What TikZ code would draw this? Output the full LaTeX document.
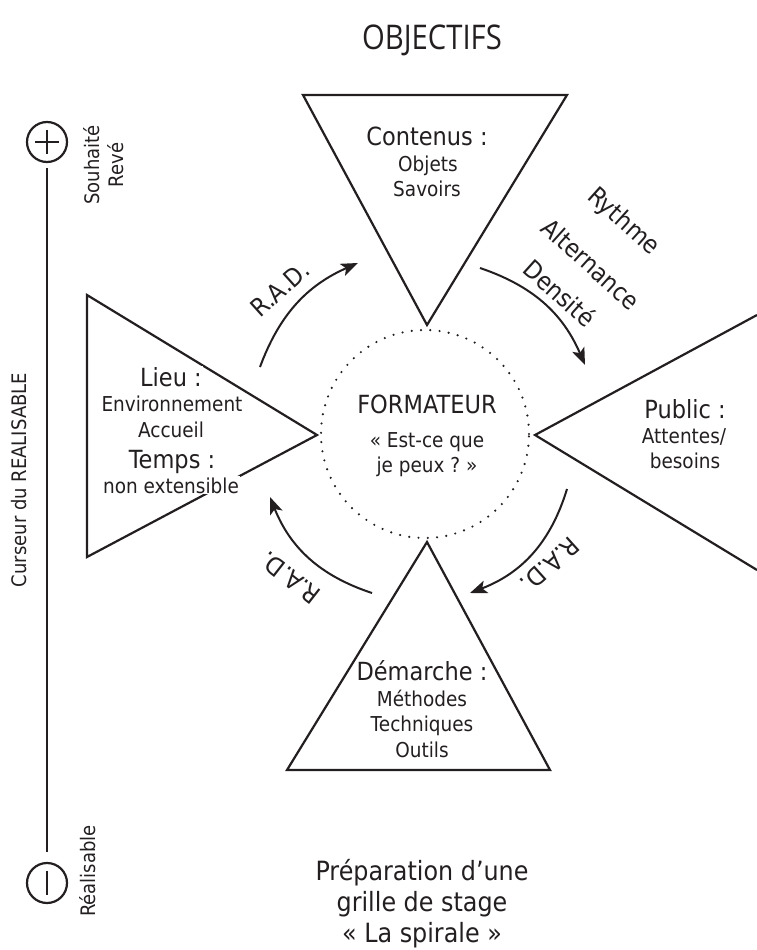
\documentclass[tikz,border=0pt]{standalone}
\usepackage{fontspec}
\setmainfont{DejaVu Sans}[FakeStretch=0.9]
\newfontfamily\condfont{Open Sans}[FakeStretch=0.86]
\usetikzlibrary{arrows.meta}
\definecolor{ink}{HTML}{231F20}
\begin{document}
\begin{tikzpicture}[x=1pt,y=1pt,line join=miter,
  edge/.style={draw=ink,line width=2.2pt},
  flow/.style={draw=ink,line width=2pt,-{Stealth[length=17pt,width=13pt,inset=4pt]}},
  dots/.style={draw=ink,line width=2.4pt,line cap=round,dash pattern=on 0pt off 9.3pt},
  head/.style={font=\fontsize{25}{28}\selectfont,text=ink,inner sep=1pt,anchor=base},
  item/.style={font=\fontsize{20.5}{24}\selectfont,text=ink,inner sep=1pt,anchor=base},
  wbox/.style={fill=white},
  lab/.style={font=\fontsize{25}{28}\selectfont,text=ink,inner sep=0pt},
  side/.style={font=\fontsize{20}{24}\selectfont,text=ink,inner sep=0pt,align=center,rotate=90},
  bottom/.style={font=\fontsize{26.5}{31}\selectfont,text=ink,inner sep=1pt,anchor=base}
]
\useasboundingbox (0,0) rectangle (757,-950);

% title
\node[text=ink,font=\condfont\fontsize{34}{38}\selectfont,anchor=base,inner sep=0pt] (obj) at (432,-49) {OBJECTIFS};

% triangles
\draw[edge] (303,-95) -- (567,-95) -- (427,-325) -- cycle;
\draw[edge] (87,-295) -- (317,-435) -- (87,-557) -- cycle;
\draw[edge] (757,-315) -- (535,-435) -- (757,-570);
\draw[edge] (427,-542) -- (550,-770) -- (287,-770) -- cycle;

% dotted circle
\draw[dots] (425,-434) circle (104);

% top triangle text
\node[head] (contenus) at (427,-145) {Contenus :};
\node[item] (objets) at (428,-171) {Objets};
\node[item] (savoirs) at (427,-196) {Savoirs};

% left triangle text
\node[head,wbox] (lieu) at (171,-386) {Lieu :};
\node[item,wbox] (env) at (172,-411) {Environnement};
\node[item,wbox] (accueil) at (171,-437) {Accueil};
\node[head,wbox] (temps) at (172,-468) {Temps :};
\node[item,wbox] (nonext) at (171,-493) {non extensible};

% centre
\node[head] (formateur) at (427,-413) {FORMATEUR};
\node[item] (q1) at (427,-447) {«~Est-ce que};
\node[item] (q2) at (427,-472) {je peux ?~»};

% right triangle text
\node[head] (public) at (685,-418) {Public :};
\node[item] (attentes) at (684,-443) {Attentes/};
\node[item] (besoins) at (685,-468) {besoins};

% bottom triangle text
\node[head] (demarche) at (422,-680) {Démarche :};
\node[item] (methodes) at (422,-706) {Méthodes};
\node[item] (techniques) at (422,-731) {Techniques};
\node[item] (outils) at (422,-757) {Outils};

% arrows
\coordinate (a1s) at (260,-367); \coordinate (a1e) at (358,-263);
\coordinate (a2s) at (480,-268); \coordinate (a2e) at (585,-365);
\coordinate (a3s) at (567,-489); \coordinate (a3e) at (470,-593);
\coordinate (a4s) at (372,-593); \coordinate (a4e) at (270,-497);
\draw[flow] (a1s) to[bend left=23] (a1e);
\draw[flow] (a2s) to[bend left=24] (a2e);
\draw[flow] (a3s) to[bend left=26] (a3e);
\draw[flow] (a4s) to[bend left=25] (a4e);

% arrow labels
\node[lab,rotate=42] (rad1) at (280,-289) {R.A.D.};
\node[lab,rotate=-42] (rythme) at (623,-222) {Rythme};
\node[lab,rotate=-42] (altern) at (591,-264) {Alternance};
\node[lab,rotate=-42] (densite) at (560,-293) {Densité};
\node[lab,rotate=-138] (rad2) at (550,-565) {R.A.D.};
\node[lab,rotate=142] (rad3) at (290,-578) {R.A.D.};

% cursor axis
\draw[edge] (47,-142) circle (20);
\draw[edge] (35,-142) -- (59,-142) (47,-130) -- (47,-154);
\draw[edge] (47,-883) circle (20);
\draw[edge] (47,-871) -- (47,-895);
\coordinate (axtop) at (47,-168); \coordinate (axbot) at (47,-852);
\draw[edge] (axtop) -- (axbot);
\node[side] (souhaite) at (104,-165) {Souhaité\\Revé};
\node[side] (realisable) at (88,-871) {Réalisable};
\node[side] (curseur) at (19,-480) {Curseur du REALISABLE};

% bottom caption
\node[bottom] (prep) at (422,-880) {Préparation d’une};
\node[bottom] (grille) at (422,-911) {grille de stage};
\node[bottom] (spirale) at (422,-942) {«~La spirale~»};
\end{tikzpicture}
\end{document}
